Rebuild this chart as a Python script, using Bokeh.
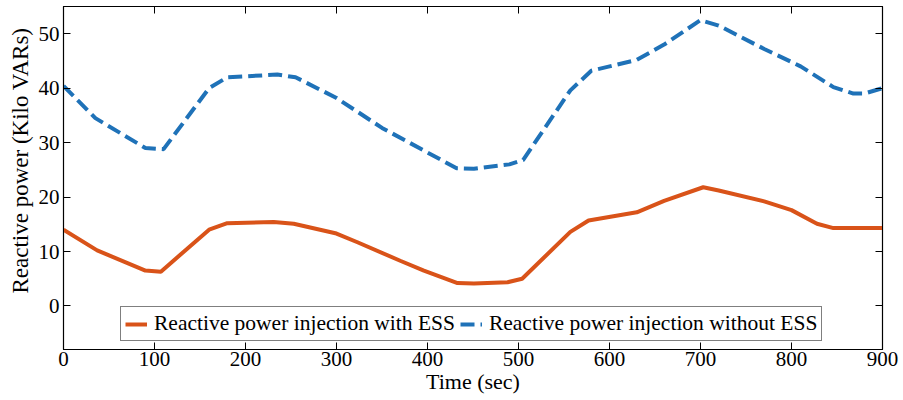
from bokeh.plotting import figure
from bokeh.models import LinearAxis, Legend, LegendItem, Range1d, FixedTicker, CustomLabelingPolicy, Title
from bokeh.embed import file_html
from bokeh.resources import INLINE

# data
t_with = [0, 37, 90, 107, 160, 180, 231, 253, 300, 323, 370, 396, 433, 451, 488, 504,
          557, 577, 630, 660, 703, 720, 770, 800, 828, 846, 900]
q_with = [14.0, 10.2, 6.5, 6.3, 14.0, 15.2, 15.4, 15.1, 13.3, 11.7, 8.3, 6.5, 4.2, 4.1, 4.35, 5.0,
          13.6, 15.7, 17.2, 19.3, 21.8, 21.2, 19.2, 17.6, 15.1, 14.3, 14.3]
t_without = [0, 35, 90, 110, 160, 180, 235, 255, 300, 350, 432, 451, 490, 505, 557, 580,
             630, 660, 700, 720, 770, 810, 846, 868, 880, 900]
q_without = [40.4, 34.5, 29.0, 28.8, 40.0, 42.0, 42.5, 42.0, 38.2, 32.7, 25.3, 25.2, 26.0, 26.8, 39.6, 43.2,
             45.2, 48.0, 52.5, 51.5, 47.2, 44.0, 40.2, 39.0, 39.0, 40.0]
x_ticks = [0, 100, 200, 300, 400, 500, 600, 700, 800, 900]
y_ticks = [0, 10, 20, 30, 40, 50]
labels = ["Reactive power injection with ESS", "Reactive power injection without ESS"]
x_title = "Time (sec)"
y_title = "Reactive power (Kilo VARs)"

FONT = "Liberation Serif"
ORANGE = "#D95319"
BLUE = "#1F72B8"

p = figure(width=903, height=400, output_backend="svg", toolbar_location=None,
           x_range=Range1d(0, 900), y_range=Range1d(-8, 55),
           min_border_left=63, min_border_right=21, min_border_top=6, min_border_bottom=51)
p.xaxis.visible = False
p.yaxis.visible = False
p.grid.visible = False
p.outline_line_color = "black"
p.outline_line_width = 1.2

no_labels = CustomLabelingPolicy(code="""
const all = [...indices]
for (const i of all) indices.unset(i)
return indices
""")

def style(ax, show_labels):
    ax.major_tick_in = 7
    ax.major_tick_out = 0
    ax.minor_tick_line_color = None
    ax.axis_line_color = "black"
    ax.major_tick_line_color = "black"
    if show_labels:
        ax.major_label_text_font = FONT
        ax.major_label_text_font_size = "21px"
        ax.major_label_text_color = "black"
        ax.axis_label_text_font = FONT
        ax.axis_label_text_font_size = "22px"
        ax.axis_label_text_font_style = "normal"
        ax.axis_label_text_color = "black"
    else:
        ax.major_label_policy = no_labels
        ax.major_label_text_font_size = "0px"
        ax.major_label_standoff = 0

xb = LinearAxis(ticker=FixedTicker(ticks=x_ticks), axis_label=x_title)
style(xb, True)
xb.major_label_standoff = 2
xb.axis_label_standoff = 0
p.add_layout(xb, "below")

yl = LinearAxis(ticker=FixedTicker(ticks=y_ticks))
style(yl, True)
yl.major_label_standoff = 4
p.add_layout(yl, "left")

ytitle = Title(text=y_title, align="left", offset=56, standoff=6,
               text_font=FONT, text_font_size="23px", text_font_style="normal",
               text_color="black")
p.add_layout(ytitle, "left")

xt = LinearAxis(ticker=FixedTicker(ticks=x_ticks))
style(xt, False)
p.add_layout(xt, "above")
yr = LinearAxis(ticker=FixedTicker(ticks=y_ticks))
style(yr, False)
p.add_layout(yr, "right")

r1 = p.line(t_with, q_with, line_color=ORANGE, line_width=4)
r2 = p.line(t_without, q_without, line_color=BLUE, line_width=4, line_dash="14 6")

legend = Legend(items=[LegendItem(label=labels[0], renderers=[r1]),
                       LegendItem(label=labels[1], renderers=[r2])],
                orientation="horizontal", location=(57, 8))
legend.label_text_font = FONT
legend.label_text_font_size = "21.5px"
legend.label_text_color = "black"
legend.border_line_color = "black"
legend.border_line_width = 1.2
legend.padding = 4
legend.margin = 0
legend.spacing = 5
legend.glyph_width = 22
legend.label_standoff = 7
legend.label_height = 20
legend.glyph_height = 20
p.add_layout(legend, "center")

open("out.html", "w").write(file_html(p, INLINE))
